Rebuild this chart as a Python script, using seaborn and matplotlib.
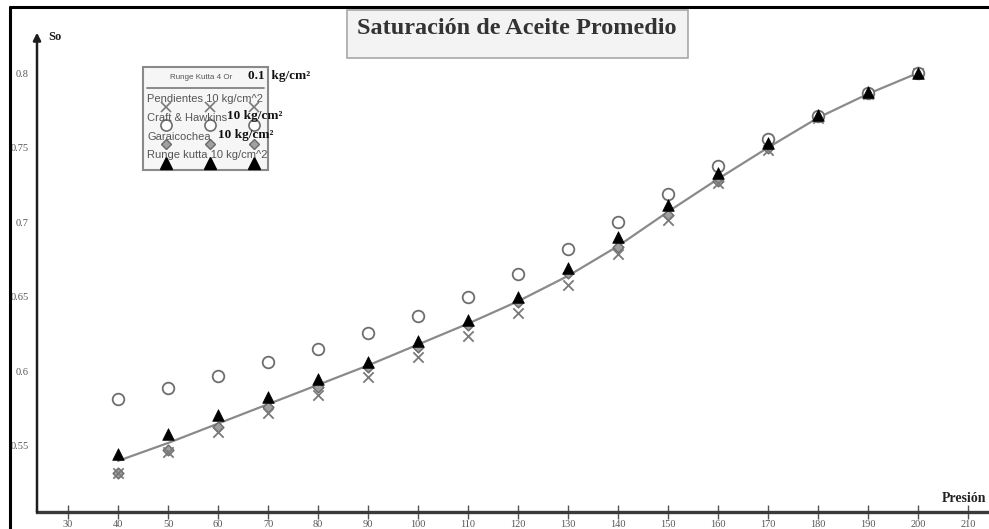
import matplotlib
matplotlib.use("Agg")
import matplotlib.pyplot as plt
from matplotlib.lines import Line2D
from matplotlib.patches import Rectangle
import seaborn as sns
import pandas as pd

# Presión (kg/cm2)
presion = [40, 50, 60, 70, 80, 90, 100, 110, 120, 130, 140, 150, 160, 170, 180, 190, 200]

# Runge Kutta 4 orden, paso 0.1 kg/cm2 (curva continua)
rk_fino = [0.540, 0.552, 0.565, 0.578, 0.591, 0.604, 0.618, 0.632, 0.647, 0.664,
           0.684, 0.707, 0.729, 0.750, 0.770, 0.786, 0.800]
# Pendientes, paso 10 kg/cm2
pendientes = [0.532, 0.546, 0.5596, 0.5721, 0.5844, 0.5965, 0.6099, 0.6237, 0.6393, 0.6579,
              0.6790, 0.7017, 0.7261, 0.7484, 0.7696, 0.7862, 0.8000]
# Craft & Hawkins, paso 10 kg/cm2
craft_hawkins = [0.5814, 0.5892, 0.5969, 0.6063, 0.6150, 0.6255, 0.6373, 0.6501, 0.6653, 0.6820,
                 0.6999, 0.7189, 0.7377, 0.7556, 0.7712, 0.7868, 0.8002]
# Garaicochea, paso 10 kg/cm2
garaicochea = [0.5317, 0.5473, 0.5630, 0.5762, 0.5897, 0.6030, 0.6161, 0.6311, 0.6467, 0.6657,
               0.6836, 0.7048, 0.7278, 0.7500, 0.7712, 0.7866, 0.8001]
# Runge Kutta, paso 10 kg/cm2
runge_kutta = [0.5446, 0.5578, 0.5708, 0.5828, 0.5947, 0.6065, 0.6206, 0.6345, 0.6501, 0.6691,
               0.6901, 0.7117, 0.7332, 0.7529, 0.7718, 0.7870, 0.8003]

x_ticks = [30, 40, 50, 60, 70, 80, 90, 100, 110, 120, 130, 140, 150, 160, 170, 180, 190, 200, 210]
y_ticks = [0.55, 0.6, 0.65, 0.7, 0.75, 0.8]
y_tick_labels = ["0.55", "0.6", "0.65", "0.7", "0.75", "0.8"]

df = pd.DataFrame({
    "presion": presion,
    "rk_fino": rk_fino,
    "pendientes": pendientes,
    "craft": craft_hawkins,
    "garaicochea": garaicochea,
    "rk": runge_kutta,
})

sns.set_theme(style="white")
plt.rcParams["font.family"] = ["Liberation Serif", "DejaVu Serif"]

W, H = 989, 529
fig = plt.figure(figsize=(W / 100, H / 100), dpi=100)


def fx(px):
    return px / W


def fy(py):
    return 1 - py / H


ax = fig.add_axes([fx(37), fy(512), (989 - 37) / W, (512 - 35) / H])
ax.set_facecolor("white")

sns.lineplot(data=df, x="presion", y="rk_fino", ax=ax, color="#8a8a8a", lw=1.6, zorder=2)
sns.scatterplot(data=df, x="presion", y="garaicochea", ax=ax, marker="D", s=30,
                color="#a0a0a0", edgecolor="#6a6a6a", linewidth=1.0, zorder=3)
sns.scatterplot(data=df, x="presion", y="pendientes", ax=ax, marker="x", s=55,
                color="#7a7a7a", linewidth=1.3, zorder=4)
sns.scatterplot(data=df, x="presion", y="craft", ax=ax, marker="o", s=70,
                facecolor="white", edgecolor="#6e6e6e", linewidth=1.3, zorder=4)
sns.scatterplot(data=df, x="presion", y="rk", ax=ax, marker="^", s=70,
                color="black", edgecolor="black", linewidth=0.5, zorder=5)

ax.set_xlim(23.8, 214.2)
ax.set_ylim(0.50576, 0.82547)
ax.set_xlabel("")
ax.set_ylabel("")

for side in ["top", "right", "left"]:
    ax.spines[side].set_visible(False)
ax.spines["bottom"].set_color("#3a3a3a")
ax.spines["bottom"].set_linewidth(2.4)

ax.set_xticks(x_ticks)
ax.set_xticklabels([str(v) for v in x_ticks])
ax.set_yticks(y_ticks)
ax.set_yticklabels(y_tick_labels)
ax.tick_params(axis="x", direction="inout", length=10, width=1.0, color="#555555",
               labelsize=7.5, labelcolor="#555555", pad=1, bottom=True)
ax.tick_params(axis="y", length=0, labelsize=7.5, labelcolor="#555555", pad=6, left=True)

# eje vertical con flecha
ax.annotate("", xy=(0, 1.005), xytext=(0, 0), xycoords="axes fraction",
            arrowprops=dict(arrowstyle="-|>", color="#1e1e1e", lw=1.8, mutation_scale=11,
                            shrinkA=0, shrinkB=0), annotation_clip=False)

fig.text(fx(48), fy(37), "So", ha="left", va="center", fontsize=9, fontweight="bold",
         color="#222222")
fig.text(fx(986), fy(498), "Presión", ha="right", va="center", fontsize=10,
         fontweight="bold", color="#222222")

# marco exterior
fig.add_artist(Line2D([fx(10), fx(10)], [fy(7), fy(529)], color="black", lw=2.2))
fig.add_artist(Line2D([fx(10), fx(989)], [fy(7), fy(7)], color="black", lw=2.2))

# recuadro del título
fig.add_artist(Rectangle((fx(347), fy(58)), (688 - 347) / W, (58 - 10) / H,
                         transform=fig.transFigure, facecolor="#f3f3f3",
                         edgecolor="#a8a8a8", lw=1.2))
fig.text(fx(517), fy(28), "Saturación de Aceite Promedio", ha="center", va="center",
         fontsize=17.5, fontweight="bold", color="#333333")

# leyenda
fig.add_artist(Rectangle((fx(143), fy(170)), (268 - 143) / W, (170 - 67) / H,
                         transform=fig.transFigure, facecolor="#f6f6f6",
                         edgecolor="#8a8a8a", lw=1.5))
fig.add_artist(Line2D([fx(147), fx(264)], [fy(88), fy(88)], color="#777777", lw=1.2))
sans = ["Liberation Sans", "DejaVu Sans"]
fig.text(fx(170), fy(77), "Runge Kutta 4 Or", ha="left", va="center", fontsize=5.8,
         color="#555555", family=sans)
fig.text(fx(248), fy(76), "0.1  kg/cm²", ha="left", va="center", fontsize=9.5,
         fontweight="bold", color="#111111")

rows = [
    ("Pendientes 10 kg/cm^2", None, None, 99, 107,
     dict(marker="x", color="#7a7a7a", markersize=7.5, markeredgewidth=1.2)),
    ("Craft & Hawkins", "10 kg/cm²", 227, 118, 125,
     dict(marker="o", markerfacecolor="white", markeredgecolor="#6e6e6e",
          markersize=8, markeredgewidth=1.2)),
    ("Garaicochea", "10 kg/cm²", 218, 137, 144,
     dict(marker="D", markerfacecolor="#a0a0a0", markeredgecolor="#6a6a6a",
          markersize=5.5, markeredgewidth=1.0)),
    ("Runge kutta 10 kg/cm^2", None, None, 155, 163,
     dict(marker="^", color="black", markersize=8)),
]
for label, extra, extra_x, ty, my, style in rows:
    fig.text(fx(147), fy(ty), label, ha="left", va="center", fontsize=8,
             color="#555555", family=sans)
    if extra:
        fig.text(fx(extra_x), fy(ty - 2), extra, ha="left", va="center", fontsize=9.5,
                 fontweight="bold", color="#111111")
    for mx in (166, 210, 254):
        fig.add_artist(Line2D([fx(mx)], [fy(my)], linestyle="none", **style))

fig.savefig("out.png", dpi=100, facecolor="white")
